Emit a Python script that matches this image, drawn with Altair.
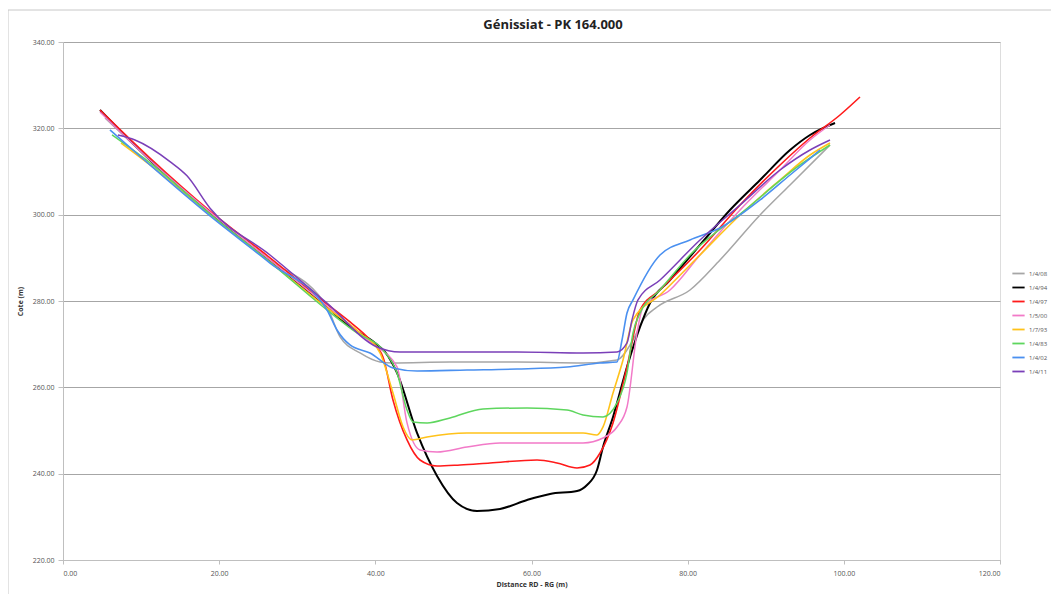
import altair as alt
import pandas as pd

chart_title = "Génissiat - PK 164.000"
series_names = ["1/4/08", "1/4/94", "1/4/97", "1/5/00", "1/7/93", "1/4/83", "1/4/02", "1/4/11"]
series_colors = ["#a6a6a6", "#000000", "#ff1a1a", "#f27ac8", "#ffc21a", "#5ed65e", "#4a90f0", "#7a3fb8"]
series_widths = [1.5, 2.0, 1.6, 1.5, 1.6, 1.5, 1.6, 1.5]

gray_x = [5.38, 11.14, 18.83, 26.51, 33.81, 35.48, 38.04, 40.60, 42.26, 49.56, 58.15, 66.60, 70.95, 73.00, 74.28, 76.08, 80.30, 84.14, 89.27, 93.11, 98.23]
gray_y = [322.40, 312.67, 300.39, 289.50, 278.61, 271.67, 267.96, 265.87, 265.64, 265.87, 265.87, 265.64, 266.34, 270.97, 275.60, 278.61, 282.55, 289.50, 299.93, 306.88, 316.14]

black_x = [4.74, 11.14, 18.83, 23.95, 30.35, 33.81, 36.76, 39.96, 41.24, 42.78, 45.34, 47.90, 50.46, 53.02, 55.97, 59.43, 62.37, 65.83, 67.11, 68.39, 69.16, 70.44, 72.23, 73.90, 75.18, 77.74, 81.58, 85.42, 89.27, 93.11, 95.67, 98.87]
black_y = [324.25, 312.67, 300.39, 292.98, 283.70, 278.61, 274.00, 270.28, 268.20, 263.33, 249.43, 239.47, 233.21, 231.36, 231.82, 233.91, 235.30, 235.99, 237.38, 240.86, 246.19, 253.14, 264.72, 273.98, 279.54, 284.87, 292.98, 301.08, 308.03, 314.98, 318.46, 321.24]

red_x = [4.74, 11.14, 18.83, 26.51, 33.81, 36.76, 39.32, 40.98, 42.26, 44.06, 45.72, 47.90, 50.85, 54.69, 60.71, 63.27, 65.83, 67.49, 68.78, 70.44, 72.23, 73.90, 76.46, 81.58, 86.71, 91.83, 95.67, 99.51, 102.07]
red_y = [324.25, 313.13, 300.85, 290.00, 279.30, 275.14, 270.97, 267.03, 257.07, 247.81, 243.17, 241.78, 242.02, 242.48, 243.17, 242.48, 241.32, 242.02, 244.79, 251.75, 264.72, 277.92, 282.55, 291.82, 302.24, 311.51, 317.76, 323.09, 327.26]

pink_x = [4.74, 11.14, 18.83, 26.51, 33.81, 39.32, 42.78, 44.06, 45.72, 47.90, 51.74, 55.97, 61.48, 66.60, 69.16, 70.95, 72.23, 73.51, 74.28, 77.74, 81.58, 86.71, 91.83, 95.67, 98.23]
pink_y = [323.80, 312.67, 300.60, 289.50, 278.85, 270.50, 264.72, 251.75, 245.49, 245.03, 246.19, 247.11, 247.11, 247.11, 248.27, 250.82, 255.45, 272.59, 278.61, 282.55, 290.66, 301.08, 310.35, 317.30, 320.77]

orange_x = [7.43, 11.14, 18.83, 26.51, 33.81, 38.04, 40.60, 42.26, 43.55, 44.70, 46.62, 51.74, 58.15, 66.60, 68.39, 69.16, 70.44, 71.72, 73.00, 76.46, 81.58, 86.71, 91.83, 95.67, 98.23]
orange_y = [316.60, 311.51, 299.93, 289.00, 278.40, 272.59, 267.96, 258.69, 250.82, 247.81, 248.50, 249.43, 249.43, 249.43, 248.97, 250.82, 258.69, 266.34, 275.60, 281.39, 290.66, 299.93, 308.03, 313.82, 316.60]

green_x = [6.28, 11.14, 18.83, 26.51, 33.81, 37.65, 40.98, 42.78, 44.06, 44.83, 46.62, 49.56, 53.79, 59.43, 64.55, 66.60, 69.16, 70.95, 72.23, 73.00, 73.90, 76.46, 80.30, 87.35, 94.39, 98.23]
green_y = [318.46, 312.00, 300.16, 289.00, 277.92, 272.59, 268.66, 263.33, 254.76, 251.98, 251.75, 252.91, 254.99, 255.22, 254.76, 253.60, 253.14, 256.38, 263.33, 272.59, 277.23, 282.55, 290.66, 301.08, 311.51, 316.14]

blue_x = [6.02, 11.14, 18.83, 26.51, 33.81, 35.09, 36.76, 39.32, 42.26, 45.34, 51.74, 58.15, 64.55, 68.78, 70.95, 71.59, 72.23, 73.00, 76.46, 80.30, 84.14, 89.27, 93.11, 96.95]
blue_y = [319.62, 311.51, 299.70, 288.80, 277.92, 273.29, 269.81, 267.96, 264.49, 263.79, 264.02, 264.25, 264.72, 265.64, 265.87, 270.97, 277.23, 280.24, 290.66, 294.14, 296.90, 303.40, 309.19, 314.98]

purple_x = [7.04, 9.22, 13.70, 15.88, 18.83, 26.51, 33.81, 40.21, 43.16, 49.56, 58.15, 66.60, 70.95, 72.23, 72.87, 73.64, 76.46, 81.58, 86.71, 91.83, 95.67, 98.23]
purple_y = [318.46, 317.30, 312.30, 309.00, 301.50, 290.66, 279.50, 269.35, 268.19, 268.19, 268.19, 267.96, 268.19, 270.28, 275.60, 280.24, 284.87, 294.14, 302.24, 310.35, 314.98, 317.30]

x_ticks = [0, 20, 40, 60, 80, 100, 120]
y_ticks = [220, 240, 260, 280, 300, 320, 340]

all_x = [gray_x, black_x, red_x, pink_x, orange_x, green_x, blue_x, purple_x]
all_y = [gray_y, black_y, red_y, pink_y, orange_y, green_y, blue_y, purple_y]

rows = []
for name, xs, ys, w in zip(series_names, all_x, all_y, series_widths):
    for i, (xv, yv) in enumerate(zip(xs, ys)):
        rows.append({"serie": name, "idx": i, "dist": xv, "cote": yv, "w": w})
df = pd.DataFrame(rows)
one = pd.DataFrame({"t": [chart_title]})

FONT = "Open Sans"

lines = alt.Chart(df).mark_line(interpolate="monotone").encode(
    x=alt.X("dist:Q",
            scale=alt.Scale(domain=[0, 120], nice=False, zero=False),
            axis=alt.Axis(values=x_ticks, format=".2f", title="Distance RD - RG (m)",
                          grid=False, labelFontSize=7, titleFontSize=7, titleFontWeight="bold",
                          labelColor="#555555", titleColor="#333333", domainColor="#bfbfbf",
                          tickColor="#bfbfbf", tickSize=4, labelPadding=5, titlePadding=4)),
    y=alt.Y("cote:Q",
            scale=alt.Scale(domain=[220, 340], nice=False, zero=False),
            axis=alt.Axis(values=y_ticks, format=".2f", title="Cote (m)",
                          grid=True, gridColor="#a6a6a6", gridWidth=1,
                          labelFontSize=7, titleFontSize=7, titleFontWeight="bold",
                          labelColor="#555555", titleColor="#333333", domainColor="#bfbfbf",
                          tickColor="#bfbfbf", tickSize=5, labelPadding=4, titlePadding=9)),
    color=alt.Color("serie:N",
                    scale=alt.Scale(domain=series_names, range=series_colors),
                    sort=series_names,
                    legend=alt.Legend(title=None, orient="none", legendX=948, legendY=224,
                                      symbolType="stroke", symbolSize=150, symbolStrokeWidth=1.8,
                                      labelFontSize=6, labelColor="#555555", labelLimit=40,
                                      labelOffset=3, rowPadding=2)),
    strokeWidth=alt.StrokeWidth("w:Q", scale=None, legend=None),
    order="idx:Q",
    detail="serie:N",
)

title_text = alt.Chart(one).mark_text(font=FONT, fontSize=13, fontWeight="bold", color="#222222",
                                      align="center", baseline="middle").encode(
    text="t:N", x=alt.value(490), y=alt.value(-17)
)

border_top = alt.Chart(one).mark_rule(color="#c8c8c8", strokeWidth=1).encode(
    x=alt.value(-55), x2=alt.value(1000), y=alt.value(-32)
)
border_left = alt.Chart(one).mark_rule(color="#c8c8c8", strokeWidth=1).encode(
    x=alt.value(-55), y=alt.value(-32), y2=alt.value(560)
)

chart = alt.layer(border_top, border_left, lines, title_text).properties(
    width=937,
    height=518,
    autosize=alt.AutoSizeParams(type="none"),
    padding={"left": 55, "top": 34, "right": 51, "bottom": 34},
).configure_view(stroke=None).configure(font=FONT)

chart.save("out.html", embed_options={"renderer": "svg", "actions": False})
